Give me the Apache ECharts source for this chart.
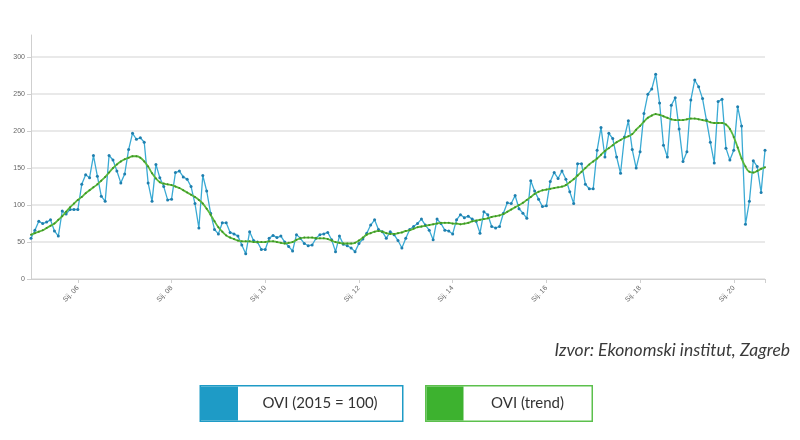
<!DOCTYPE html>
<html>
<head>
<meta charset="utf-8">
<script src="https://cdn.jsdelivr.net/npm/echarts@6/dist/echarts.min.js"></script>
<style>
html,body{margin:0;padding:0;background:#fff;}
#chart{width:800px;height:440px;}
</style>
</head>
<body>
<div id="chart"></div>
<script>
// Monthly data, Jan 2005 - Sep 2020
const monthNames = ['Sij','Velj','Ožu','Tra','Svi','Lip','Srp','Kol','Ruj','Lis','Stu','Pro'];
const startYear = 2005;
const pointCount = 189;

const oviValues = [
  55, 66, 78, 75, 77, 80, 65, 58, 92, 88, 94, 94,
  94, 128, 141, 137, 167, 139, 112, 105, 167, 161, 146, 130,
  142, 175, 197, 189, 191, 185, 130, 105, 155, 137, 125, 107,
  108, 144, 146, 138, 135, 125, 102, 69, 140, 119, 89, 67,
  61, 76, 76, 63, 61, 58, 46, 34, 64, 52, 50, 40,
  40, 55, 59, 56, 58, 50, 44, 38, 60, 55, 48, 45,
  46, 55, 60, 61, 63, 53, 37, 58, 47, 45, 42, 37,
  48, 54, 62, 73, 80, 67, 64, 55, 64, 60, 52, 42,
  55, 67, 71, 75, 81, 73, 66, 53, 81, 75, 66, 65,
  61, 80, 87, 83, 85, 81, 78, 62, 91, 87, 71, 69,
  71, 89, 103, 102, 113, 95, 89, 82, 133, 119, 108, 98,
  99, 132, 144, 136, 146, 135, 118, 102, 156, 156, 128, 122,
  122, 174, 205, 165, 197, 190, 165, 143, 192, 214, 175, 150,
  172, 224, 250, 257, 277, 238, 181, 165, 235, 245, 203, 159,
  172, 242, 269, 260, 244, 215, 185, 157, 240, 243, 177, 161,
  174, 233, 207, 74, 105, 160, 152, 117, 174
];

const trendValues = [
  60, 62, 64, 66, 69, 72, 75, 80, 85, 91, 97, 102,
  107, 111, 116, 120, 124, 128, 133, 138, 144, 150, 155, 159,
  162, 164, 166, 166, 164, 159, 152, 143, 136, 131, 129, 128,
  127, 125, 123, 120, 117, 114, 111, 107, 102, 95, 87, 78,
  70, 64, 59, 56, 54, 52, 51, 51, 51, 50, 50, 50,
  50, 51, 51, 50, 49, 48, 49, 50, 53, 55, 56, 56,
  56, 55, 55, 55, 54, 52, 50, 49, 48, 48, 48, 49,
  52, 56, 60, 62, 64, 65, 64, 62, 61, 61, 62, 63,
  65, 66, 68, 70, 71, 72, 73, 74, 75, 76, 76, 76,
  75, 75, 74, 75, 76, 78, 79, 80, 81, 82, 84, 85,
  86, 88, 91, 94, 97, 100, 103, 107, 111, 115, 118, 120,
  121, 122, 123, 124, 125, 127, 131, 135, 140, 145, 150, 155,
  159, 163, 168, 173, 177, 181, 185, 188, 191, 193, 196, 202,
  207, 213, 218, 221, 223, 222, 220, 218, 216, 215, 215, 215,
  216, 217, 217, 216, 215, 214, 212, 211, 211, 211, 209, 203,
  192, 178, 163, 152, 145, 144, 146, 149, 151
];

const seriesNames = ['OVI (2015 = 100)', 'OVI (trend)'];
const sourceText = 'Izvor: Ekonomski institut, Zagreb';

const categories = [];
for (let i = 0; i < pointCount; i++) {
  const y = startYear + Math.floor(i / 12);
  categories.push(monthNames[i % 12] + '. ' + String(y % 100).padStart(2, '0'));
}
const lastIdx = pointCount - 1;

const chart = echarts.init(document.getElementById('chart'), null, {renderer: 'canvas'});
const gridColors = ['#e2e2e2','#e2e2e2','#e2e2e2','#e2e2e2','#e2e2e2','#e2e2e2','#e2e2e2','rgba(0,0,0,0)'];

chart.setOption({
  animation: false,
  backgroundColor: '#fff',
  grid: {left: 31, right: 35, top: 35, bottom: 161, containLabel: false},
  xAxis: {
    type: 'category',
    data: categories,
    boundaryGap: false,
    axisLine: {lineStyle: {color: '#cfcfcf', width: 1}},
    axisTick: {show: true, length: 4, interval: (i) => (i % 24 === 12) || i === lastIdx, lineStyle: {color: '#cfcfcf'}},
    axisLabel: {
      interval: (i) => i % 24 === 12,
      rotate: 45,
      fontSize: 7,
      color: '#666',
      margin: 8,
      fontFamily: 'Liberation Sans, Arial, sans-serif'
    },
    splitLine: {show: false}
  },
  yAxis: {
    type: 'value',
    min: 0,
    max: 330,
    interval: 50,
    axisLine: {show: true, lineStyle: {color: '#cfcfcf', width: 1}},
    axisTick: {show: true, length: 4, lineStyle: {color: '#cfcfcf'}},
    axisLabel: {fontSize: 7, color: '#666', margin: 6, showMaxLabel: false, fontFamily: 'Liberation Sans, Arial, sans-serif'},
    splitLine: {show: true, lineStyle: {color: gridColors, width: 1.5}}
  },
  legend: {
    left: 191,
    top: 380,
    itemWidth: 0,
    itemHeight: 0,
    itemGap: 18,
    icon: 'none',
    selectedMode: false,
    data: [
      {name: seriesNames[0], textStyle: {borderColor: '#1e9bc6'}},
      {name: seriesNames[1], textStyle: {borderColor: '#5cc04d'}}
    ],
    formatter: function (name) {
      return name === seriesNames[0] ? '{b|}{t1|' + name + '}' : '{g|}{t2|' + name + '}';
    },
    textStyle: {
      borderWidth: 1.5,
      padding: 0,
      backgroundColor: '#fff',
      rich: {
        b: {backgroundColor: '#1e9bc6', width: 37, height: 34},
        g: {backgroundColor: '#3db22f', width: 37, height: 34},
        t1: {width: 164, height: 34, lineHeight: 34, align: 'center', fontSize: 15, color: '#333', fontFamily: 'Lato, Open Sans, sans-serif'},
        t2: {width: 128, height: 34, lineHeight: 34, align: 'center', fontSize: 15, color: '#333', fontFamily: 'Lato, Open Sans, sans-serif'}
      }
    }
  },
  graphic: [{
    type: 'text',
    right: 10,
    top: 341,
    style: {
      text: sourceText,
      fontSize: 17.5,
      fontStyle: 'italic',
      fontFamily: 'Lato, Open Sans, sans-serif',
      fill: '#3a3a3a'
    }
  }],
  series: [
    {
      name: seriesNames[0],
      type: 'line',
      data: oviValues,
      symbol: 'circle',
      symbolSize: 3,
      showSymbol: true,
      showAllSymbol: true,
      lineStyle: {color: '#3aaad4', width: 1.3},
      itemStyle: {color: '#1f7fae'},
      color: '#1e9bc6',
      z: 2
    },
    {
      name: seriesNames[1],
      type: 'line',
      data: trendValues,
      smooth: true,
      symbol: 'circle',
      symbolSize: 2,
      showSymbol: true,
      showAllSymbol: true,
      lineStyle: {color: '#58b93a', width: 1.8},
      itemStyle: {color: '#3f8f26'},
      color: '#3db22f',
      z: 3
    }
  ]
});
</script>
</body>
</html>
